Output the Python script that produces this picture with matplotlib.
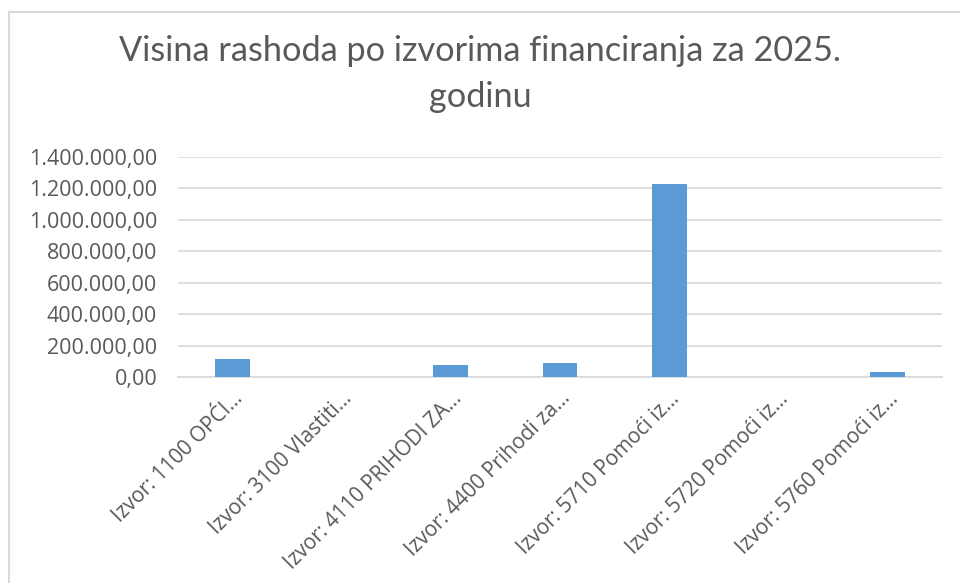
import matplotlib
matplotlib.use("Agg")
import matplotlib.pyplot as plt
from matplotlib.patches import Rectangle
from matplotlib.ticker import FuncFormatter

categories = [
    "Izvor: 1100 OPĆI...",
    "Izvor: 3100 Vlastiti...",
    "Izvor: 4110 PRIHODI ZA...",
    "Izvor: 4400 Prihodi za...",
    "Izvor: 5710 Pomoći iz...",
    "Izvor: 5720 Pomoći iz...",
    "Izvor: 5760 Pomoći iz...",
]
values = [115000, 0, 77000, 90000, 1228000, 0, 32000]
yticks = [0, 200000, 400000, 600000, 800000, 1000000, 1200000, 1400000]

plt.rcParams['font.family'] = ['Open Sans', 'DejaVu Sans']
W, H = 960, 583
fig = plt.figure(figsize=(W/100, H/100), dpi=100)
fig.patch.set_facecolor('white')

# chart frame
fig.add_artist(Rectangle((9/W, -0.1), 1.2, (H-12)/H + 0.1, transform=fig.transFigure,
                         fill=False, edgecolor='#d9d9d9', linewidth=1.5))

ax = fig.add_axes([178/W, (H-377)/H, (942-178)/W, (377-157)/H])
x = range(len(categories))
ax.bar(x, values, width=0.32, color='#5b9bd5', zorder=3)
ax.set_xlim(-0.5, len(categories)-0.5)
ax.set_ylim(0, 1400000)
ax.set_yticks(yticks)

def fmt(v, pos):
    s = f"{v:,.2f}"
    return s.replace(",", "X").replace(".", ",").replace("X", ".")
ax.yaxis.set_major_formatter(FuncFormatter(fmt))
ax.set_xticks(list(x))
ax.set_xticklabels(categories, rotation=45, ha='right', rotation_mode='anchor')
ax.grid(axis='y', color='#d9d9d9', linewidth=1.2, zorder=0)
for s in ['top', 'right', 'left']:
    ax.spines[s].set_visible(False)
ax.spines['bottom'].set_color('#d9d9d9')
ax.spines['bottom'].set_linewidth(1.2)
ax.tick_params(axis='y', length=0, colors='#595959', labelsize=15.5, pad=15)
ax.tick_params(axis='x', length=0, colors='#595959', labelsize=15, pad=8)

fig.text(0.5, (H-74)/H, "Visina rashoda po izvorima financiranja za 2025.\ngodinu",
         ha='center', va='center', fontsize=24.7, color='#595959', linespacing=1.55,
         family=['Lato', 'DejaVu Sans'])

fig.savefig("out.png", dpi=100, facecolor='white')
